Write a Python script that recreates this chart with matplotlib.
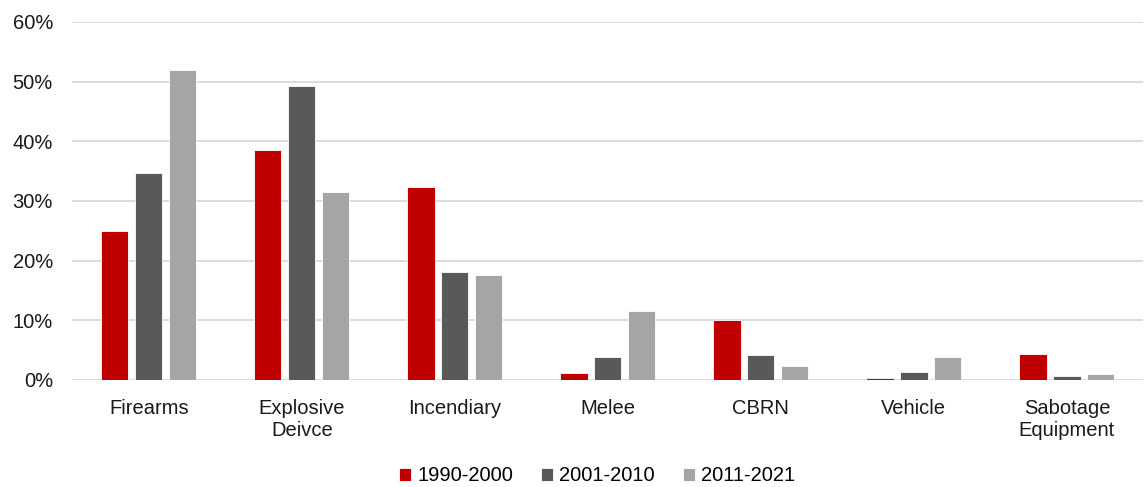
import numpy as np
import matplotlib.pyplot as plt
from matplotlib.ticker import PercentFormatter

plt.rcParams['font.family'] = ['Liberation Sans', 'DejaVu Sans']

categories = ['Firearms', 'Explosive\nDeivce', 'Incendiary', 'Melee', 'CBRN', 'Vehicle', 'Sabotage\nEquipment']
p1990 = [25.0, 38.5, 32.4, 1.1, 10.0, 0.3, 4.4]
p2001 = [34.7, 49.2, 18.1, 3.8, 4.2, 1.4, 0.6]
p2011 = [52.0, 31.5, 17.6, 11.6, 2.3, 3.8, 0.9]
series = ['1990-2000', '2001-2010', '2011-2021']
colors = ['#c00000', '#595959', '#a5a5a5']

fig = plt.figure(figsize=(11.48, 4.87), dpi=100)
ax = fig.add_axes([0.063, 0.22, 0.933, 0.735])

x = np.arange(len(categories))
w = 0.178
for i, (vals, lab, c) in enumerate(zip([p1990, p2001, p2011], series, colors)):
    ax.bar(x + (i - 1) * 0.222, vals, w, color=c, label=lab, edgecolor='white', linewidth=0.6, zorder=3)

ax.set_xlim(-0.5, 6.5)
ax.set_ylim(0, 60)
ax.set_yticks(range(0, 61, 10))
ax.yaxis.set_major_formatter(PercentFormatter(decimals=0))
ax.set_xticks(x)
ax.set_xticklabels(categories, linespacing=1.2)
ax.grid(axis='y', color='#d9d9d9', linewidth=1.3, zorder=0)
for s in ax.spines.values():
    s.set_visible(False)
ax.tick_params(length=0, labelsize=14.5, colors='#1a1a1a')
ax.tick_params(axis='x', pad=14)
ax.tick_params(axis='y', pad=14)

ax.legend(loc='lower center', bbox_to_anchor=(0.49, -0.345), ncol=3, frameon=False,
          fontsize=14.5, handlelength=0.6, handleheight=0.6, handletextpad=0.3, columnspacing=1.4)

fig.savefig('out.png', dpi=100)
